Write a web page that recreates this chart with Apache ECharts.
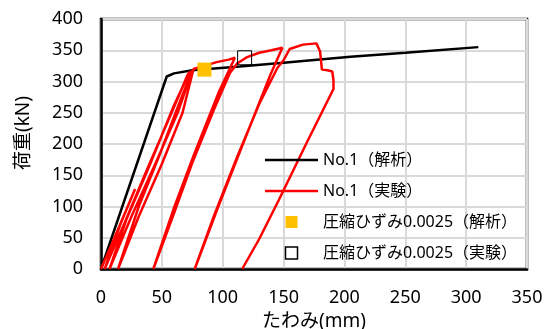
<!DOCTYPE html>
<html>
<head>
<meta charset="utf-8">
<script src="https://cdn.jsdelivr.net/npm/echarts@6/dist/echarts.min.js"></script>
<style>
html,body{margin:0;padding:0;background:#fff;}
#c{width:552px;height:329px;}
</style>
</head>
<body>
<div id="c"></div>
<script>
// ---- data ----
const seriesNames = ['No.1（解析）', 'No.1（実験）', '圧縮ひずみ0.0025（解析）', '圧縮ひずみ0.0025（実験）'];

// analysis curve: [deflection mm, load kN]
const analysisCurve = [
  [0,0],[54,308],[60,313],[75,318],[114,324],[150,330],[205,339.5],[250,346],[310,355]
];

// experiment curve (cyclic loading): [deflection mm, load kN]
const experimentCurve = [
  [0,0],[15,68],[28,128],[16,72],[3,0],
  [19,72],[38,160],[58,250],[71,310],[73,316],
  [60,262],[40,166],[21,80],[7,0],
  [25,84],[45,170],[63,250],[74,312],[75,318],
  [66,274],[48,182],[31,100],[14,0],
  [31,84],[50,168],[67,250],[76,320],[85,325],[95,331],[105,335],[110,338],
  [97,284],[77,186],[60,98],[43,0],
  [59,84],[75,170],[93,256],[106,314],[112,329],[116,334],[120,339],[130,346],[140,350],[149,354],
  [139,310],[115,192],[96,98],[77,0],
  [93,86],[112,180],[130,264],[145,322],[150,334],[155,352],[166,359],[177,361],[180,348],[181.5,319],[186,318],[190,316],[191,302],[191,288],
  [168,198],[146,110],[130,48],[116,0]
];

// compressive strain 0.0025 points
const strainAnalysis = [[85,319]];
const strainExperiment = [[118,338]];

// axis ranges
const xMin = 0, xMax = 350, xStep = 50;
const yMin = 0, yMax = 400, yStep = 50;
const xAxisTitle = 'たわみ(mm)';
const yAxisTitle = '荷重(kN)';

const FONT = "'Noto Sans', 'Noto Sans CJK JP', sans-serif";

const chart = echarts.init(document.getElementById('c'), null, {renderer: 'canvas'});
chart.setOption({
  animation: false,
  backgroundColor: '#fff',
  grid: {
    left: 101, right: 25, top: 19, bottom: 60,
    containLabel: false, outerBoundsMode: 'none',
    show: true, borderColor: '#000', borderWidth: 2.5, backgroundColor: 'transparent'
  },
  xAxis: {
    type: 'value', min: xMin, max: xMax, interval: xStep,
    name: xAxisTitle, nameLocation: 'middle', nameGap: 34,
    nameTextStyle: {color: '#000', fontSize: 19, fontFamily: FONT},
    axisLine: {show: true, lineStyle: {color: '#000', width: 2.5}},
    axisTick: {show: false},
    axisLabel: {color: '#000', fontSize: 18, fontFamily: FONT, margin: 20},
    splitLine: {show: true, lineStyle: {color: '#d9d9d9', width: 2}}
  },
  yAxis: {
    type: 'value', min: yMin, max: yMax, interval: yStep,
    name: yAxisTitle, nameLocation: 'middle', nameGap: 68,
    nameTextStyle: {color: '#000', fontSize: 19, fontFamily: FONT, padding: [0, 0, 0, 22]},
    axisLine: {show: true, lineStyle: {color: '#000', width: 2.5}},
    axisTick: {show: false},
    axisLabel: {color: '#000', fontSize: 18, fontFamily: FONT, margin: 18},
    splitLine: {show: true, lineStyle: {color: '#d9d9d9', width: 2}}
  },
  legend: {
    orient: 'vertical',
    left: 265, top: 152,
    padding: 0,
    itemWidth: 53, itemHeight: 12, itemGap: 15,
    symbolKeepAspect: true,
    textStyle: {color: '#000', fontSize: 16, fontFamily: FONT},
    data: [
      {name: seriesNames[0], icon: 'path://M0,0H53V2.5H0Z', itemStyle: {color: '#000'}},
      {name: seriesNames[1], icon: 'path://M0,0H53V2.5H0Z', itemStyle: {color: '#ff0000'}},
      {name: seriesNames[2], icon: 'path://M0,0H12V12H0Z', itemStyle: {color: '#ffc000'}},
      {name: seriesNames[3], icon: 'path://M0,0H12V12H0Z', itemStyle: {color: 'rgba(0,0,0,0)', borderColor: '#000', borderWidth: 1.5}}
    ]
  },
  series: [
    {
      name: seriesNames[0], type: 'line', data: analysisCurve,
      symbol: 'none', showSymbol: false,
      lineStyle: {color: '#000', width: 2.5}, itemStyle: {color: '#000'}, z: 2
    },
    {
      name: seriesNames[1], type: 'line', data: experimentCurve,
      symbol: 'none', showSymbol: false,
      lineStyle: {color: '#ff0000', width: 2.5}, itemStyle: {color: '#ff0000'}, z: 3
    },
    {
      name: seriesNames[2], type: 'scatter', data: strainAnalysis,
      symbol: 'rect', symbolSize: 14,
      itemStyle: {color: '#ffc000', opacity: 1}, z: 4
    },
    {
      name: seriesNames[3], type: 'scatter', data: strainExperiment,
      symbol: 'rect', symbolSize: 14,
      itemStyle: {color: 'rgba(0,0,0,0)', borderColor: '#000', borderWidth: 1, opacity: 1}, z: 5
    }
  ]
});
</script>
</body>
</html>
